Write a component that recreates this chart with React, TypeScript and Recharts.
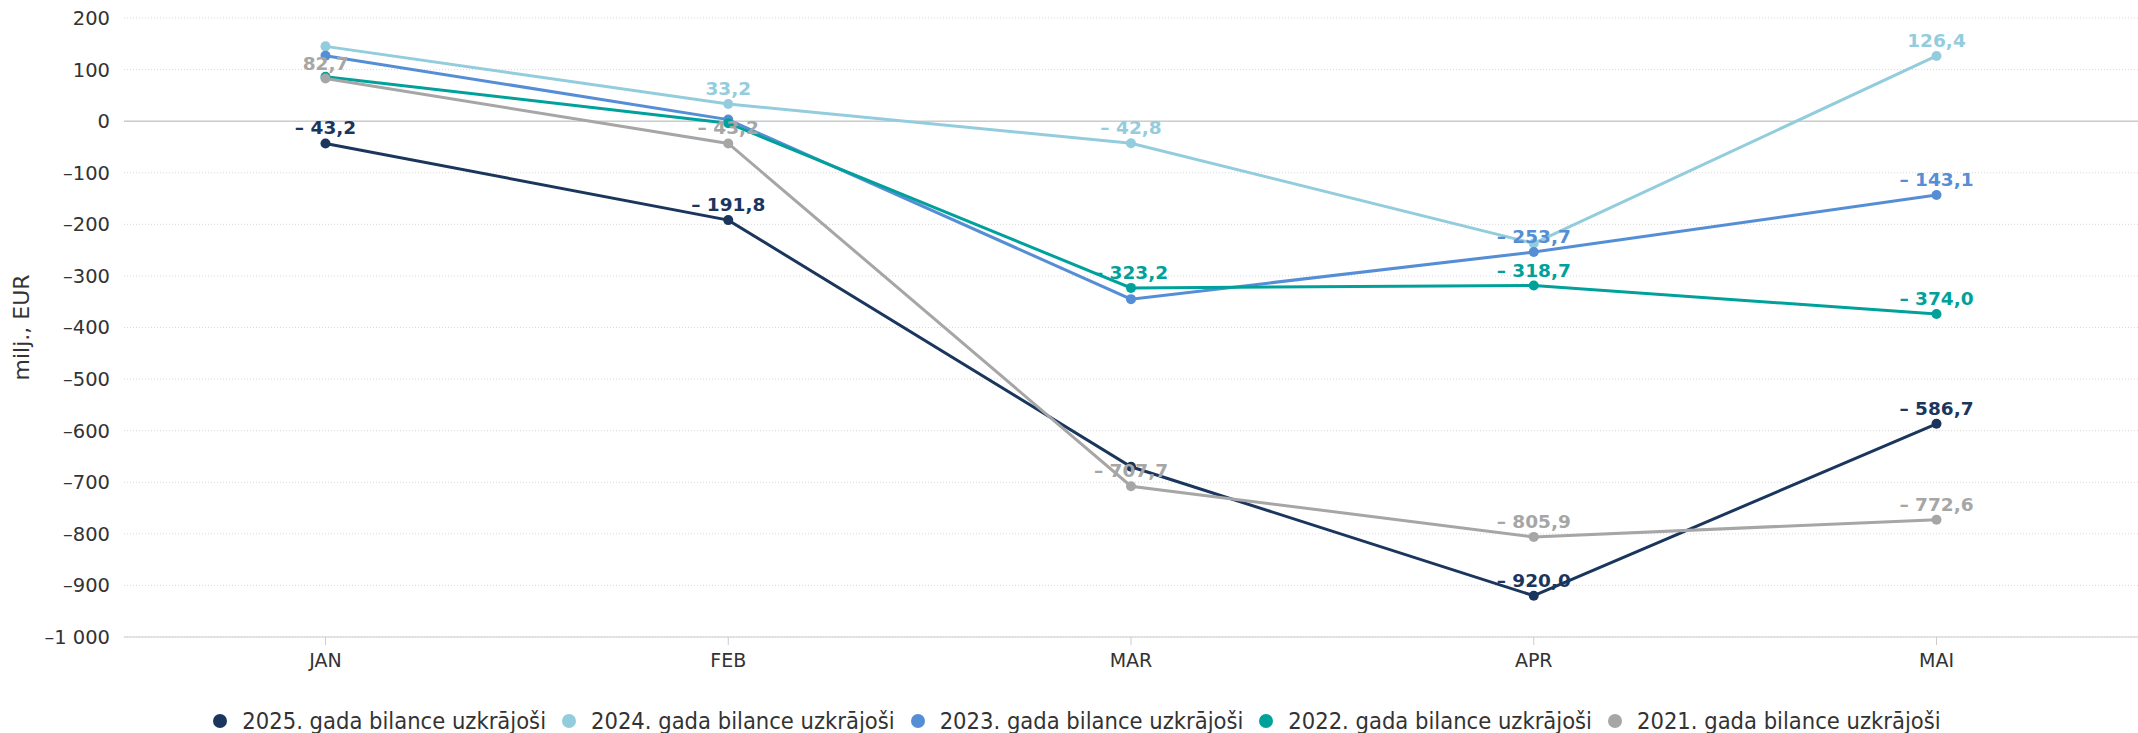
import React from 'react';
import { LineChart, Line, XAxis, YAxis, CartesianGrid, ReferenceLine, Legend } from 'recharts';

const months = ['JAN', 'FEB', 'MAR', 'APR', 'MAI'];
const y2025 = [-43.2, -191.8, -670.0, -920.0, -586.7];
const y2024 = [145.0, 33.2, -42.8, -237.0, 126.4];
const y2023 = [127.0, 3.0, -345.0, -253.7, -143.1];
const y2022 = [86.0, -4.0, -323.2, -318.7, -374.0];
const y2021 = [82.7, -43.2, -707.7, -805.9, -772.6];

const show2025 = [true, true, false, true, true];
const show2024 = [false, true, true, false, true];
const show2023 = [false, false, false, true, true];
const show2022 = [false, false, true, true, true];
const show2021 = [true, true, true, true, true];

const yTicks = [200, 100, 0, -100, -200, -300, -400, -500, -600, -700, -800, -900, -1000];

const seriesKeys = ['s2025', 's2024', 's2023', 's2022', 's2021'];
const seriesNames = [
  '2025. gada bilance uzkrājoši',
  '2024. gada bilance uzkrājoši',
  '2023. gada bilance uzkrājoši',
  '2022. gada bilance uzkrājoši',
  '2021. gada bilance uzkrājoši',
];
const seriesColors = ['#1b365d', '#93cddd', '#558ed5', '#00a19a', '#a6a6a6'];
const seriesValues = [y2025, y2024, y2023, y2022, y2021];
const seriesShow = [show2025, show2024, show2023, show2022, show2021];

const data = months.map((m, i) => {
  const row: any = { month: m };
  seriesKeys.forEach((k, s) => {
    row[k] = seriesValues[s][i];
  });
  return row;
});

const FONT = '"DejaVu Sans", sans-serif';

const fmtThousands = (n: number) => String(n).replace(/\B(?=(\d{3})+(?!\d))/g, ' ');
const yTickFmt = (v: number) => (v < 0 ? '–' + fmtThousands(-v) : fmtThousands(v));
const labelFmt = (v: number) => {
  const s = Math.abs(v).toFixed(1).replace('.', ',');
  return v < 0 ? '– ' + s : s;
};

const makeLabel = (color: string, show: boolean[]) => (props: any) => {
  const { x, y, index, value } = props;
  if (!show[index]) return <g key={`l-${index}`} />;
  return (
    <text
      key={`l-${index}`}
      x={x}
      y={y - 9}
      textAnchor="middle"
      fill={color}
      fontSize={18.5}
      fontWeight="bold"
      fontFamily={FONT}
    >
      {labelFmt(value)}
    </text>
  );
};

const YTitle = (props: any) => {
  const vb = props.viewBox || { x: 0, y: 18, width: 124, height: 619 };
  const cx = vb.x + 21;
  const cy = vb.y + vb.height / 2;
  return (
    <text
      x={cx}
      y={cy}
      transform={`rotate(-90, ${cx}, ${cy})`}
      textAnchor="middle"
      dominantBaseline="central"
      fill="#333"
      fontSize={22}
      fontFamily={FONT}
    >
      milj., EUR
    </text>
  );
};

const renderLegend = () => (
  <div
    style={{
      display: 'flex',
      justifyContent: 'center',
      alignItems: 'center',
      height: 30,
      width: '100%',
      boxSizing: 'border-box',
      paddingLeft: 16,
      transform: 'translateY(3px)',
    }}
  >
    {seriesNames.map((name, i) => (
      <div
        key={name}
        style={{
          display: 'flex',
          alignItems: 'center',
          marginRight: i < seriesNames.length - 1 ? 16 : 0,
        }}
      >
        <span
          style={{
            display: 'inline-block',
            width: 14,
            height: 14,
            borderRadius: '50%',
            background: seriesColors[i],
            marginRight: 15,
          }}
        />
        <span
          style={{
            fontFamily: '"DejaVu Sans Condensed", "DejaVu Sans", sans-serif',
            fontStretch: 'condensed',
            fontSize: 23.5,
            color: '#333',
            whiteSpace: 'nowrap',
          }}
        >
          {name}
        </span>
      </div>
    ))}
  </div>
);

export default function App() {
  return (
    <div style={{ position: 'absolute', left: 0, top: 0, width: 2138, height: 733, background: '#fff' }}>
      <LineChart width={2138} height={733} data={data} margin={{ top: 18, right: 0, bottom: 36, left: 0 }}>
        <CartesianGrid vertical={false} stroke="#d9d9d9" strokeDasharray="1 2" />
        <XAxis
          dataKey="month"
          height={30}
          padding={{ left: 201.5, right: 201.5 }}
          tickSize={8}
          tickMargin={9}
          axisLine={{ stroke: '#ccc' }}
          tickLine={{ stroke: '#ccc' }}
          tick={{ fontSize: 19, fill: '#333', fontFamily: FONT }}
          interval={0}
        />
        <YAxis
          type="number"
          domain={[-1000, 200]}
          ticks={yTicks}
          width={124}
          tickSize={0}
          tickMargin={14}
          axisLine={false}
          tickLine={false}
          tick={{ fontSize: 19.5, fill: '#333', fontFamily: FONT }}
          tickFormatter={yTickFmt}
          interval={0}
          label={<YTitle />}
        />
        <ReferenceLine y={0} stroke="#ccc" strokeWidth={1.5} />
        <Legend verticalAlign="bottom" height={30} wrapperStyle={{ bottom: 0, left: 0, width: 2138 }} content={renderLegend} />
        {seriesKeys.map((k, s) => (
          <Line
            key={k}
            dataKey={k}
            name={seriesNames[s]}
            stroke={seriesColors[s]}
            strokeWidth={3}
            dot={{ r: 5, fill: seriesColors[s], stroke: seriesColors[s], strokeWidth: 0 }}
            activeDot={false}
            isAnimationActive={false}
            label={makeLabel(seriesColors[s], seriesShow[s])}
          />
        ))}
      </LineChart>
    </div>
  );
}
